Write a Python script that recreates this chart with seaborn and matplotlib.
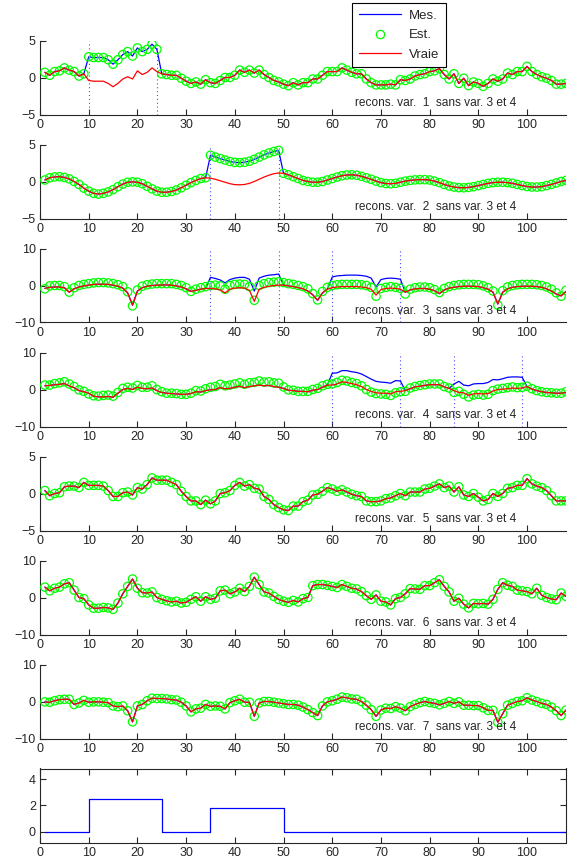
import numpy as np
import pandas as pd
import matplotlib
matplotlib.use("Agg")
import matplotlib.pyplot as plt
from matplotlib.lines import Line2D
import seaborn as sns

sns.set_style("ticks")
plt.rcParams['font.family'] = ['Liberation Sans', 'DejaVu Sans']

t = list(range(1, 109))

# ---------------- panel 1 ----------------
vraie1 = [0.7, 0.3, 0.8, 0.9, 1.3, 1.0, 0.8, 0.2, 0.5,
          -0.4, -0.5, -0.5, -0.5, -0.8, -1.25, -0.8, -0.2, 0.1, -0.2, 0.9, 0.4, 0.7, 1.3, 0.8,
          0.5, 0.4, 0.3, 0.3, -0.1, -0.5, -0.8, -0.6, -0.9, -0.3, -0.7, -0.8, -0.4, 0.0, 0.0, 0.3,
          1.0, 0.7, 1.0, 0.6, 1.0, 0.4, 0.0, -0.4, -0.6, -0.9, -1.1, -0.7, -1.0, -0.7, -0.7, -0.2,
          -0.2, 0.3, 0.8, 0.8, 0.8, 1.3, 1.0, 0.7, 0.5, 0.5, -0.2, -0.7, -1.0, -1.0, -1.0, -0.9,
          -1.0, -0.3, -0.4, -0.2, 0.2, 0.4, 0.5, 0.8, 0.9, 1.2, 0.4, -0.2, 0.5, -0.8, -0.1, -1.1,
          -0.6, -0.8, -1.2, -0.8, -0.2, -0.5, -0.2, 0.6, 0.4, 0.8, 0.8, 1.5, 0.8, 0.4, 0.1, -0.1,
          -0.4, -0.9, -0.9, -0.8]
faute1 = [2.8, 2.7, 2.7, 2.7, 2.4, 1.8, 2.4, 3.1, 3.5, 2.9, 4.0, 3.5, 3.8, 4.5, 3.8]
mes1 = vraie1[:9] + faute1 + vraie1[24:]
est1 = mes1

# ---------------- panel 2 ----------------
vraie2 = [0.2, 0.5, 0.62, 0.65, 0.55, 0.35, 0.0, -0.4, -0.9, -1.3, -1.6, -1.7, -1.6, -1.4,
          -1.1, -0.7, -0.35, -0.1, -0.05, -0.1, -0.3, -0.65, -1.0, -1.3, -1.45, -1.45, -1.35,
          -1.15, -0.85, -0.5, -0.15, 0.15, 0.4, 0.5, 0.45, 0.3, 0.1, -0.1, -0.3, -0.42, -0.45,
          -0.4, -0.25, 0.0, 0.3, 0.6, 0.85, 1.05, 1.15, 1.1, 0.9, 0.65, 0.4, 0.15, 0.0, -0.1,
          -0.1, 0.0, 0.2, 0.4, 0.6, 0.78, 0.88, 0.9, 0.85, 0.7, 0.5, 0.3, 0.05, -0.15, -0.27,
          -0.3, -0.25, -0.1, 0.05, 0.15, 0.22, 0.25, 0.25, 0.2, 0.05, -0.15, -0.4, -0.6, -0.75,
          -0.83, -0.85, -0.8, -0.7, -0.55, -0.4, -0.25, -0.15, -0.1, -0.1, -0.15, -0.25, -0.4,
          -0.55, -0.68, -0.75, -0.75, -0.7, -0.55, -0.4, -0.2, 0.0, 0.15]
faute2 = [3.55, 3.3, 3.1, 2.9, 2.7, 2.58, 2.55, 2.6, 2.75, 3.0, 3.3, 3.6, 3.85, 4.05, 4.2]
mes2 = vraie2[:34] + faute2 + vraie2[49:]
est2 = mes2

# ---------------- panel 3 ----------------
vraie3 = [-0.8, -0.5, -0.4, -0.4, -0.6, -1.8, -0.9, -0.4, -0.1, 0.1, 0.3, 0.35, 0.35, 0.3,
          0.1, -0.2, -0.7, -2.0, -5.3, -1.5, -0.6, -0.2, 0.0, 0.1, 0.15, 0.15, 0.1, -0.1, -0.4,
          -0.9, -1.6, -1.3, -1.0, -0.8, -0.8, -0.9, -1.2, -2.0, -1.0, -0.7, -0.6, -0.7, -1.3,
          -4.3, -1.0, -0.5, -0.2, 0.0, 0.1, 0.1, -0.1, -0.3, -0.6, -0.9, -1.5, -2.5, -4.0, -2.0,
          -1.0, -0.6, -0.4, -0.3, -0.3, -0.3, -0.3, -0.4, -0.6, -1.0, -2.6, -1.1, -0.8, -0.7,
          -0.8, -1.0, -1.8, -1.2, -0.9, -0.8, -0.8, -1.0, -1.4, -2.2, -1.2, -0.7, -0.5, -0.3,
          -0.2, -0.2, -0.2, -0.3, -0.6, -1.0, -1.8, -5.0, -1.8, -0.9, -0.5, -0.3, -0.2, -0.2,
          -0.2, -0.3, -0.5, -0.9, -1.5, -2.3, -2.8, -1.6]
est3 = [-0.9, -0.1, 0.0, 0.0, -0.3, -1.8, -0.6, 0.0, 0.3, 0.5, 0.7, 0.8, 0.8, 0.7, 0.5, 0.2,
        -0.3, -1.7, -5.5, -1.2, -0.2, 0.2, 0.4, 0.5, 0.5, 0.5, 0.5, 0.3, 0.0, -0.6, -1.6, -1.0,
        -0.6, -0.3, 0.0, 0.1, -0.1, -1.0, 0.0, 0.3, 0.4, 0.3, -0.3, -4.0, 0.0, 0.5, 0.8, 0.9,
        1.0, 0.8, 0.5, 0.3, 0.0, -0.3, -0.9, -2.2, -3.9, -1.6, -0.5, 0.0, 0.2, 0.3, 0.3, 0.3,
        0.3, 0.2, 0.0, -0.5, -2.9, -0.8, -0.5, -0.3, -0.5, -0.8, -2.3, -1.0, -0.6, -0.4, -0.4,
        -0.6, -1.1, -1.9, -0.8, -0.3, 0.0, 0.2, 0.3, 0.3, 0.3, 0.2, -0.1, -0.6, -1.5, -5.3,
        -1.4, -0.4, 0.0, 0.2, 0.3, 0.3, 0.3, 0.2, 0.0, -0.4, -1.0, -2.0, -2.9, -1.3]
faute3a = [2.2, 1.9, 1.5, 0.7, 1.6, 2.0, 2.2, 2.2, 1.7, -1.5, 2.0, 2.5, 2.8, 2.9, 3.1]
faute3b = [2.3, 2.6, 2.7, 2.8, 2.8, 2.8, 2.7, 2.5, 2.0, -0.4, 1.6, 1.9, 2.0, 1.9, 1.7]
mes3 = vraie3[:34] + faute3a + vraie3[49:59] + faute3b + vraie3[74:]

# ---------------- panel 4 ----------------
vraie4 = [1.0, 1.1, 1.3, 1.4, 1.6, 1.0, 0.5, -0.3, -0.6, -1.0, -1.8, -2.0, -2.0, -1.9, -2.1,
          -1.0, 0.0, 0.3, 0.0, 0.6, 0.3, 0.2, 0.4, -0.3, -0.8, -1.0, -1.1, -1.2, -1.3, -1.3,
          -1.1, -0.6, -0.7, -0.3, -0.1, 0.0, 0.5, 0.2, 0.3, 0.6, 0.9, 0.5, 0.8, 1.0, 1.2, 1.0,
          1.1, 0.8, 0.6, 0.3, -0.2, -0.3, -0.5, -0.5, -0.6, -0.2, 0.0, 0.6, 1.2, 1.2, 1.5, 2.1,
          1.9, 1.6, 1.3, 0.8, 0.0, -0.5, -0.9, -1.0, -1.0, -1.2, -0.6, -0.5, -0.3, 0.2, 0.7,
          0.9, 1.1, 1.3, 1.3, 1.3, 0.7, 0.3, -0.3, -0.8, -0.9, -1.6, -1.2, -1.1, -1.2, -1.1,
          -0.4, 0.0, 0.1, 0.2, 0.4, 0.3, 0.4, 0.8, 0.1, -0.3, -0.6, -0.8, -0.9, -1.0, -1.0, -0.8]
est4 = [1.2, 1.2, 1.6, 1.8, 2.1, 1.5, 0.8, -0.1, -0.5, -1.2, -1.7, -1.8, -1.6, -1.5, -1.8,
        -0.8, 0.3, 0.6, 0.4, 1.1, 0.6, 0.6, 1.0, 0.0, -0.6, -1.0, -1.0, -1.1, -1.3, -1.3, -1.0,
        -0.3, -0.4, 0.2, 0.6, 0.8, 1.4, 1.0, 1.2, 1.5, 1.8, 1.4, 1.8, 1.9, 2.3, 2.0, 2.1, 1.8,
        1.7, 0.7, -0.1, -0.2, -0.5, -0.5, -0.5, 0.0, 0.3, 1.0, 1.4, 1.5, 1.9, 2.5, 2.3, 1.9,
        1.6, 1.0, 0.0, -0.7, -1.1, -1.2, -1.3, -1.6, -0.9, -0.6, -0.5, 0.4, 0.8, 1.1, 1.3, 1.5,
        1.5, 1.5, 0.8, 0.4, -0.8, -0.5, -1.3, -2.0, -1.5, -1.3, -1.5, -1.3, -0.3, 0.1, 0.3,
        0.5, 0.7, 0.5, 0.6, 0.9, 0.2, -0.3, -0.6, -0.8, -0.9, -1.0, -1.0, -0.6]
faute4a = [4.4, 4.5, 5.1, 5.1, 4.8, 4.6, 4.2, 3.5, 2.8, 2.2, 2.0, 1.9, 1.7, 2.4, 2.3]
faute4b = [1.5, 2.2, 1.2, 1.0, 1.5, 1.6, 1.6, 1.9, 2.7, 2.6, 2.9, 3.3, 3.4, 3.4, 3.3]
mes4 = vraie4[:59] + faute4a + vraie4[74:84] + faute4b + vraie4[99:]

# ---------------- panel 5 ----------------
vraie5 = [0.4, -0.3, 0.0, 0.1, 0.9, 1.0, 1.0, 0.8, 1.5, 1.1, 1.1, 1.1, 1.0, 0.4, -0.4, -0.4,
          0.1, 0.2, -0.2, 0.8, 0.6, 1.2, 2.1, 1.8, 1.8, 1.8, 1.5, 1.2, 0.3, -0.4, -1.0, -1.0,
          -1.5, -0.9, -1.4, -1.0, 0.0, 0.1, 0.4, 1.1, 1.5, 1.0, 1.2, 0.7, 0.6, -0.4, -0.8, -1.5,
          -1.9, -2.2, -2.3, -1.7, -1.7, -1.1, -0.9, -0.2, -0.1, 0.3, 0.8, 0.6, 0.3, 0.5, 0.2,
          -0.1, -0.3, -0.4, -1.0, -1.1, -1.1, -1.0, -0.7, -0.6, -0.3, 0.0, -0.3, 0.2, 0.2, 0.2,
          0.6, 0.7, 1.0, 1.3, 0.8, 1.0, 0.2, 0.9, -0.2, -0.4, 0.0, -0.5, -1.0, -0.8, 0.0, -0.4,
          0.0, 0.7, 0.8, 1.1, 1.1, 2.0, 1.3, 1.0, 0.8, 0.4, -0.3, -1.0, -1.0, -1.0]

# ---------------- panel 6 ----------------
vraie6 = [2.8, 1.8, 2.5, 2.8, 3.7, 4.0, 2.0, 0.0, -0.3, -2.0, -2.9, -2.9, -2.7, -2.8, -3.2,
          -1.5, 1.0, 3.0, 5.0, 2.5, 1.3, 1.2, 1.5, 0.0, -0.5, -0.9, -1.2, -1.0, -1.5, -1.3,
          -0.5, 0.2, -1.0, 0.2, -0.5, -0.2, 1.8, 2.0, 1.0, 1.5, 2.5, 1.6, 3.0, 5.5, 3.5, 1.5,
          1.2, 0.3, -0.5, -1.0, -1.3, -0.8, -1.2, -0.3, 0.0, 3.2, 3.5, 3.5, 3.3, 3.0, 2.7, 3.5,
          3.0, 2.5, 2.3, 1.6, 0.5, -0.5, 0.7, -1.0, -1.2, -2.0, -0.3, 0.0, 1.0, 2.4, 2.3, 2.2,
          3.2, 3.2, 4.0, 4.8, 3.0, 1.5, -1.0, -0.2, -1.8, -2.8, -1.6, -1.7, -1.6, -1.8, -0.5,
          2.2, 4.0, 3.3, 3.0, 2.0, 1.8, 1.6, 1.0, 2.5, 0.6, 0.0, -0.4, -0.6, 1.2, 0.3]

# ---------------- panel 7 ----------------
vraie7 = [-0.1, -0.2, 0.2, 0.5, 0.6, 0.6, -0.8, -0.4, 0.3, -0.2, -0.1, -0.1, -0.2, -0.3,
          -1.2, -1.4, -1.2, -2.5, -5.5, -1.2, -0.8, 0.2, 0.9, 0.8, 0.8, 0.7, 0.5, 0.4, -0.2,
          -1.2, -2.8, -2.0, -1.8, -0.8, -1.3, -1.2, -1.3, -2.0, -0.3, 0.2, 0.6, -0.2, -0.2,
          -4.0, -0.4, 0.0, 0.0, -0.2, -0.4, -0.6, -0.8, -0.8, -1.0, -1.5, -2.2, -3.0, -3.8,
          -1.2, -0.1, 0.2, 0.6, 1.2, 1.0, 0.7, 0.6, 0.0, -1.0, -2.2, -4.0, -2.3, -1.8, -1.9,
          -1.4, -1.8, -2.5, -1.4, -0.8, -0.3, 0.0, -0.3, -0.5, -0.9, -0.5, 0.0, -0.5, -0.1,
          -1.0, -1.0, -1.1, -1.1, -1.7, -2.4, -2.4, -5.6, -3.3, -1.0, -0.5, 0.0, 0.2, 1.0,
          0.4, 0.0, -0.5, -0.8, -1.5, -2.5, -3.8, -2.3]

# ---------------- panel 8 : fault amplitude ----------------
defaut = [0.0] * 9 + [2.5] * 15 + [0.0] * 10 + [1.8] * 15 + [0.0] * 59

panels = [
    dict(mes=mes1, est=est1, vraie=vraie1, ylim=(-5, 5), yt=[-5, 0, 5], vl=[10, 24]),
    dict(mes=mes2, est=est2, vraie=vraie2, ylim=(-5, 5), yt=[-5, 0, 5], vl=[35, 49]),
    dict(mes=mes3, est=est3, vraie=vraie3, ylim=(-10, 10), yt=[-10, 0, 10], vl=[35, 49, 60, 74]),
    dict(mes=mes4, est=est4, vraie=vraie4, ylim=(-10, 10), yt=[-10, 0, 10], vl=[60, 74, 85, 99]),
    dict(mes=vraie5, est=vraie5, vraie=vraie5, ylim=(-5, 5), yt=[-5, 0, 5], vl=[]),
    dict(mes=vraie6, est=vraie6, vraie=vraie6, ylim=(-10, 10), yt=[-10, 0, 10], vl=[]),
    dict(mes=vraie7, est=vraie7, vraie=vraie7, ylim=(-10, 10), yt=[-10, 0, 10], vl=[]),
]

W, H = 575, 861
fig = plt.figure(figsize=(W / 100, H / 100), dpi=100)
left_px, right_px = 40, 566
top0, step, hpx = 40.5, 104, 74

BLUE = (0, 0, 1)
DOT = (0.3, 0.3, 1.0)
GREEN = (0, 1, 0)
RED = (1, 0, 0)
tick_fs = 9

def make_ax(k):
    top = top0 + step * k
    return fig.add_axes([left_px / W, 1 - (top + hpx) / H, (right_px - left_px) / W, hpx / H])

for k, p in enumerate(panels):
    ax = make_ax(k)
    df = pd.DataFrame({"t": t, "mes": p["mes"], "est": p["est"], "vraie": p["vraie"]})
    for v in p["vl"]:
        ax.axvline(v, color=DOT, ls=(0, (1, 2.5)), lw=0.8, zorder=1)
    sns.lineplot(data=df, x="t", y="mes", ax=ax, color=BLUE, lw=0.9, zorder=2)
    sns.scatterplot(data=df, x="t", y="est", ax=ax, marker="o", s=36,
                    facecolors="none", edgecolor=GREEN, linewidth=0.9, zorder=3)
    sns.lineplot(data=df, x="t", y="vraie", ax=ax, color=RED, lw=0.9, zorder=4)
    ax.set_xlim(0, 108)
    ax.set_ylim(*p["ylim"])
    ax.set_xticks(range(0, 101, 10))
    ax.set_yticks(p["yt"])
    ax.set_xlabel("")
    ax.set_ylabel("")
    sns.despine(ax=ax)
    ax.tick_params(direction="in", length=4, width=0.8, labelsize=tick_fs, pad=3)
    for s in ("left", "bottom"):
        ax.spines[s].set_linewidth(0.8)
    ax.patch.set_alpha(0)
    ax.text(0.598, 0.155, "recons. var.  %d  sans var. 3 et 4" % (k + 1),
            transform=ax.transAxes, fontsize=8.6, va="center", ha="left")

# bottom panel
ax = make_ax(7)
dfd = pd.DataFrame({"t": t, "defaut": defaut})
sns.lineplot(data=dfd, x="t", y="defaut", ax=ax, color=BLUE, lw=0.9, drawstyle="steps-post")
ax.set_xlim(0, 108)
ax.set_ylim(-0.8, 4.8)
ax.set_xticks(range(0, 101, 10))
ax.set_yticks([0, 2, 4])
ax.set_xlabel("")
ax.set_ylabel("")
ax.tick_params(direction="in", length=4, width=0.8, labelsize=tick_fs, pad=3,
               top=True, right=True)
for s in ax.spines.values():
    s.set_linewidth(0.8)

handles = [
    Line2D([], [], color=BLUE, lw=0.9),
    Line2D([], [], color=GREEN, marker="o", ls="none", mfc="none", ms=6, mew=0.9),
    Line2D([], [], color=RED, lw=0.9),
]
leg = fig.legend(handles, ["Mes.", "Est.", "Vraie"], loc="upper left",
                 bbox_to_anchor=(352 / W, 1 - 3 / H), frameon=True, fancybox=False,
                 edgecolor="black", framealpha=1, fontsize=9.5, borderaxespad=0,
                 handlelength=3.2, handletextpad=0.6, labelspacing=0.55, borderpad=0.5)
leg.get_frame().set_linewidth(0.8)

fig.savefig("out.png", dpi=100)
